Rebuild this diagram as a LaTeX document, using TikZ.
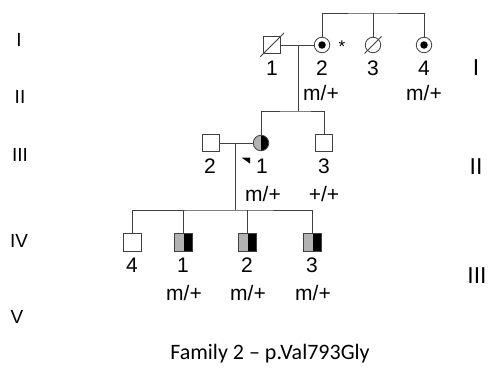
\documentclass[tikz,border=0pt]{standalone}
\usepackage{fontspec}
\setmainfont{Liberation Sans}
\newfontfamily\titlefont{Carlito}
\usetikzlibrary{calc}
\begin{document}
\begin{tikzpicture}[x=1pt,y=-1pt,
  ln/.style={draw=black!75, line width=0.8pt},
  male/.style={draw=black!75, line width=0.8pt, rectangle, minimum size=17.5pt, inner sep=0pt},
  female/.style={draw=black!75, line width=0.8pt, circle, minimum size=15.5pt, inner sep=0pt},
  dot/.style={fill=black, circle, minimum size=7.5pt, inner sep=0pt},
  halfaff/.style={path picture={
    \fill[black!30] (path picture bounding box.south west) rectangle (path picture bounding box.north);
    \fill[black] (path picture bounding box.south) rectangle (path picture bounding box.north east);}},
  lbl/.style={font=\fontsize{21}{21}\selectfont, inner sep=0pt},
  gen/.style={font=\fontsize{19}{19}\selectfont, inner sep=0pt},
  genr/.style={font=\fontsize{23}{23}\selectfont, inner sep=0pt}
]
\useasboundingbox (0,0) rectangle (489,383);
\fill[white] (0,0) rectangle (489,383);

% generation labels
\node[gen] (gI)   at (19,40)  {I};
\node[gen] (gII)  at (20,97)  {II};
\node[gen] (gIII) at (20,155) {III};
\node[gen] (gIV)  at (19,241) {IV};
\node[gen] (gV)   at (17,317) {V};
\node[genr] (rI)   at (476,68)  {I};
\node[genr] (rII)  at (476,167) {II};
\node[genr] (rIII) at (477,276) {III};

% generation I
\node[male]   (I1) at (272,45) {};
\node[female] (I2) at (322,45) {};
\node[dot]    (I2d) at (322,45) {};
\node[female] (I3) at (373,45) {};
\node[female] (I4) at (424,45) {};
\node[dot]    (I4d) at (424,45) {};
\draw[ln] ($(I1.south west)+(-2.5,2.5)$) -- ($(I1.north east)+(3,-3)$);
\draw[ln] ($(I3.center)+(-8.5,8.5)$) -- ($(I3.center)+(8.5,-8.5)$);
\node[font=\fontsize{17}{17}\selectfont, inner sep=0pt] (ast) at (342,47) {*};

\coordinate (s1) at (373,13);
\draw[ln] (I2.north) |- (s1) -| (I4.north);
\draw[ln] (s1) -- (I3.north);
\draw[ln] (I1.east) -- (I2.west);
\coordinate (m1) at (298,45);
\coordinate (c2) at (298,111);
\draw[ln] (m1) -- (c2);

\node[lbl] (l11) at (272,68) {1};
\node[lbl] (l12) at (322,68) {2};
\node[lbl] (l13) at (373,68) {3};
\node[lbl] (l14) at (424,68) {4};
\node[lbl] (g12) at (321,93) {m/+};
\node[lbl] (g14) at (424,93) {m/+};

% generation III
\node[male]   (III2) at (211,143) {};
\node[female, halfaff] (III1) at (261,143) {};
\node[male]   (III3) at (324,143) {};
\draw[ln] (III1.north) |- (c2) -| (III3.north);
\draw[ln] (III2.east) -- (III1.west);
\coordinate (m2) at (235,143);
\coordinate (c3) at (235,210);
\draw[ln] (m2) -- (c3);
\fill[black] (241.5,157.5) -- (250,157.5) -- (250,163.5) -- cycle;

\node[lbl] (l22) at (210,166) {2};
\node[lbl] (l21) at (262,166) {1};
\node[lbl] (l23) at (324,166) {3};
\node[lbl] (g21) at (263,194) {m/+};
\node[lbl] (g23) at (324,194) {+/+};

% generation IV
\node[male] (IV4) at (132.5,242.5) {};
\node[male, halfaff] (IV1) at (183.5,242.5) {};
\node[male, halfaff] (IV2) at (247.5,242.5) {};
\node[male, halfaff] (IV3) at (312.5,242.5) {};
\draw[ln] (IV4.north) |- (c3) -| (IV3.north);
\draw[ln] (IV1.north) -- (IV1.north |- c3);
\draw[ln] (IV2.north) -- (IV2.north |- c3);

\node[lbl] (l34) at (132,265) {4};
\node[lbl] (l31) at (183,265) {1};
\node[lbl] (l32) at (247,265) {2};
\node[lbl] (l33) at (312,265) {3};
\node[lbl] (g31) at (184,293) {m/+};
\node[lbl] (g32) at (248,293) {m/+};
\node[lbl] (g33) at (313,293) {m/+};

% title
\node[font=\titlefont\fontsize{22}{22}\selectfont, inner sep=0pt] (title) at (270,354) {Family 2 – p.Val793Gly};
\end{tikzpicture}
\end{document}
